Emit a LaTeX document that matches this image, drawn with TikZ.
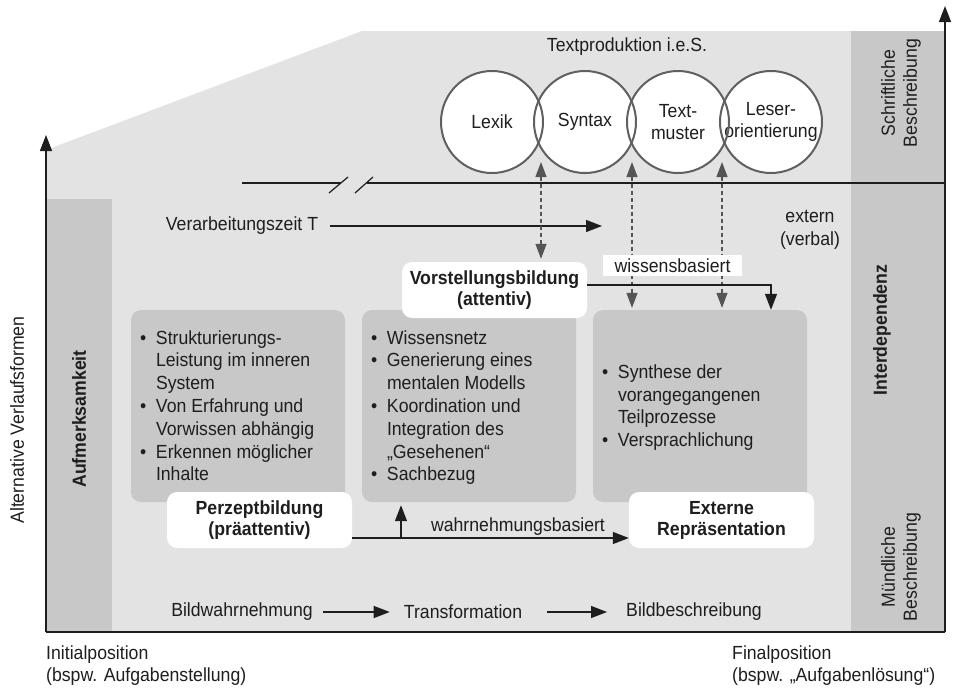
\documentclass[tikz,border=0pt]{standalone}
\usepackage{fontspec}
\setmainfont[FakeStretch=0.93]{Liberation Sans}
\usetikzlibrary{arrows.meta,calc}

\definecolor{paneback}{HTML}{E3E3E3}
\definecolor{panedark}{HTML}{C8C8C8}
\definecolor{ink}{HTML}{1E1E1E}
\definecolor{rimgray}{HTML}{606060}
\definecolor{dashgray}{HTML}{555555}

\newcommand{\lbl}{\fontsize{19}{22.8}\selectfont}
\newcommand{\bul}{\makebox[16pt][l]{\textbullet}}

\begin{document}
\begin{tikzpicture}[x=1pt,y=-1pt,
  txt/.style={font=\lbl, text=ink, inner sep=0pt},
  boldtxt/.style={font=\lbl\bfseries, text=ink, inner sep=0pt},
  panel/.style={fill=panedark, rounded corners=10pt, minimum width=214pt, minimum height=192pt, inner sep=0pt},
  whitebox/.style={fill=white, rounded corners=10pt, minimum width=185pt, minimum height=56pt, inner sep=0pt, align=center, font=\fontsize{19}{21}\selectfont\bfseries, text=ink},
  bubble/.style={circle, fill=white, minimum size=102pt, inner sep=0pt, align=center, font=\fontsize{19}{22}\selectfont, text=ink},
  rim/.style={draw=rimgray, line width=2pt},
  axisline/.style={draw=ink, line width=1.4pt},
  axis/.style={axisline, -{Triangle[length=16pt,width=12pt]}},
  flow/.style={draw=ink, line width=1.3pt, -{Triangle[length=16pt,width=12pt]}},
  link/.style={draw=dashgray, line width=1.2pt, dash pattern=on 4pt off 3pt,
    {Triangle[length=15pt,width=11pt]}-{Triangle[length=15pt,width=11pt]}},
  level/.style={draw=ink, line width=1.2pt},
]
\useasboundingbox (0,0) rectangle (954,689);

% background panes
\fill[paneback] (46,150) -- (362,31) -- (945,31) -- (945,632) -- (46,632) -- cycle;
\fill[panedark] (851,31) rectangle (945,632);
\fill[panedark] (46,199) rectangle (112,632);

% axes
\coordinate (origin) at (46,632);
\coordinate (ytip) at (46,135);
\coordinate (corner) at (945,632);
\coordinate (ztip) at (945,6);
\draw[axisline] (corner) -- (origin);
\draw[axis] (origin) -- (ytip);
\draw[axis] (corner) -- (ztip);

% internal / external boundary with break marks
\coordinate (lvA) at (242,183);
\coordinate (lvB) at (341,183);
\coordinate (lvC) at (367,183);
\coordinate (lvD) at (945,183);
\draw[level] (lvA) -- (lvB);
\draw[level] (lvC) -- (lvD);
\draw[level] ($(lvB)+(-12,10)$) -- ($(lvB)+(7,-6)$);
\draw[level] ($(lvC)+(-12,10)$) -- ($(lvC)+(6,-6)$);

% text production circles
\node[txt] (tp) at (627,47) {Textproduktion i.e.S.};
\node[bubble] (lex) at (492,122) {Lexik};
\node[bubble] (syn) at (585,122) {Syntax};
\node[bubble] (tm) at (678,122) {Text-\\muster};
\node[bubble] (lo) at (771,122) {Leser-\\orientierung};
\foreach \c in {lex,syn,tm,lo} \draw[rim] (\c.center) circle[radius=51pt];

% time axis
\node[txt] (vz) at (242,226) {Verarbeitungszeit T};
\coordinate (vzend) at (602,226);
\draw[flow, shorten <=12pt] (vz.east) -- (vzend);

\node[txt, align=center] (ext) at (810,230) {extern\\(verbal)};

% process panels
\node[panel] (p1) at (238,406) {};
\node[panel] (p2) at (469,406) {};
\node[panel] (p3) at (700,406) {};

\node[txt, anchor=west] (l1) at ([xshift=9pt,yshift=-2pt]p1.west) {%
  \begin{tabular}{@{}l@{}l@{}}
  \bul & Strukturierungs-\\
       & Leistung im inneren\\
       & System\\
  \bul & Von Erfahrung und\\
       & Vorwissen abhängig\\
  \bul & Erkennen möglicher\\
       & Inhalte
  \end{tabular}};
\node[txt, anchor=west] (l2) at ([xshift=9pt,yshift=-2pt]p2.west) {%
  \begin{tabular}{@{}l@{}l@{}}
  \bul & Wissensnetz\\
  \bul & Generierung eines\\
       & mentalen Modells\\
  \bul & Koordination und\\
       & Integration des\\
       & „Gesehenen“\\
  \bul & Sachbezug
  \end{tabular}};
\node[txt, anchor=west] (l3) at ([xshift=9pt,yshift=-2pt]p3.west) {%
  \begin{tabular}{@{}l@{}l@{}}
  \bul & Synthese der\\
       & vorangegangenen\\
       & Teilprozesse\\
  \bul & Versprachlichung
  \end{tabular}};

% stage boxes
\node[whitebox] (pb) at (259.5,520) {Perzeptbildung\\(präattentiv)};
\node[whitebox] (vb) at (494.5,290) {Vorstellungsbildung\\(attentiv)};
\node[whitebox] (ex) at (721.5,520) {Externe\\Repräsentation};

% links between circles and stages
\coordinate (j1) at (541,162);
\coordinate (j2) at (632,162);
\coordinate (j3) at (722,162);
\draw[link, shorten >=3pt] (j1) -- (j1 |- vb.north);
\draw[link, shorten >=2pt] (j2) -- (j2 |- p3.north);
\draw[link, shorten >=2pt] (j3) -- (j3 |- p3.north);

\node[txt, fill=white, minimum width=139pt, minimum height=21pt] (wis) at (672.5,265.5) {wissensbasiert};

\coordinate (drop) at (771,285);
\draw[flow] ([yshift=5pt]vb.east) -| (drop |- p3.north);

% perception based route
\draw[flow] ([yshift=-18pt]pb.east) -- ([yshift=-18pt]ex.west);
\node[txt] (wb) at (518,527) {wahrnehmungsbasiert};
\coordinate (rise) at (401,538);
\draw[flow, shorten >=3pt] (rise) -- (rise |- p2.south);

% bottom sequence
\node[txt] (bw) at (242,612) {Bildwahrnehmung};
\node[txt] (tf) at (463,612) {Transformation};
\node[txt] (bb) at (694,612) {Bildbeschreibung};
\draw[flow, shorten <=10pt, shorten >=14pt] (bw.east) -- (tf.west);
\draw[flow, shorten <=25pt, shorten >=19pt] (tf.east) -- (bb.west);

% side labels
\node[txt, rotate=90] (alt) at (17,420) {Alternative Verlaufsformen};
\node[boldtxt, rotate=90] (auf) at (79,419) {Aufmerksamkeit};
\node[txt, rotate=90, align=center, font=\fontsize{19}{22}\selectfont] (sb) at (901,93) {Schriftliche\\Beschreibung};
\node[boldtxt, rotate=90] (inter) at (882,330) {Interdependenz};
\node[txt, rotate=90, align=center, font=\fontsize{19}{22}\selectfont] (mb) at (901,567) {Mündliche\\Beschreibung};

% positions on the time line
\node[txt, anchor=west, align=left, font=\fontsize{19}{22}\selectfont] (ini) at (46,666) {Initialposition\\(bspw. Aufgabenstellung)};
\node[txt, anchor=west, align=left, font=\fontsize{19}{22}\selectfont] (fin) at (732,666) {Finalposition\\(bspw. „Aufgabenlösung“)};
\end{tikzpicture}
\end{document}
